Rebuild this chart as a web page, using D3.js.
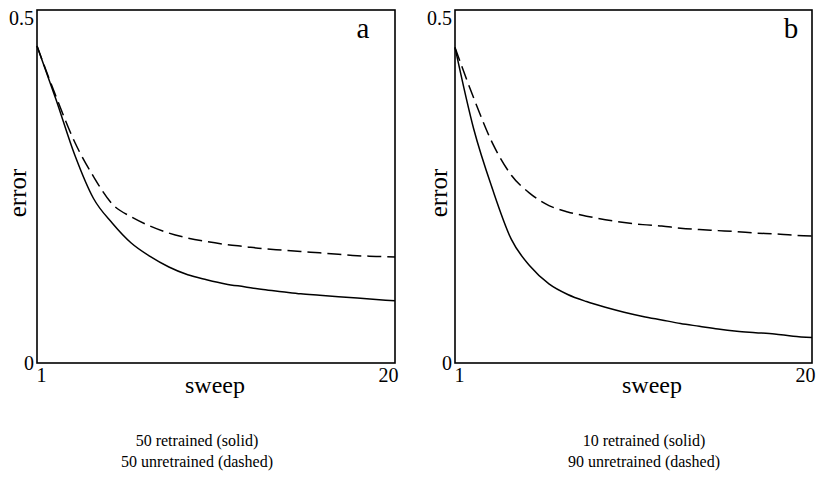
<!DOCTYPE html>
<html>
<head>
<meta charset="utf-8">
<script src="https://cdn.jsdelivr.net/npm/d3@7"></script>
<style>
  html, body { margin: 0; padding: 0; background: #fff; }
  svg { display: block; }
  text { font-family: "Liberation Serif", "Times New Roman", serif; fill: #000; }
</style>
</head>
<body>
<svg id="chart" width="821" height="485"></svg>
<script>
// ---- data ----
const sweeps = [1,2,3,4,5,6,7,8,9,10,11,12,13,14,15,16,17,18,19,20];
const aSolid  = [0.449,0.374,0.295,0.233,0.198,0.170,0.151,0.136,0.125,0.118,0.112,0.108,0.104,0.101,0.098,0.096,0.094,0.092,0.090,0.088];
const aDashed = [0.449,0.378,0.313,0.264,0.225,0.207,0.194,0.184,0.177,0.172,0.168,0.165,0.162,0.160,0.158,0.156,0.154,0.152,0.151,0.150];
const bSolid  = [0.447,0.331,0.246,0.175,0.137,0.112,0.097,0.087,0.079,0.072,0.066,0.061,0.056,0.052,0.048,0.045,0.043,0.041,0.038,0.036];
const bDashed = [0.447,0.375,0.311,0.266,0.240,0.223,0.214,0.208,0.203,0.199,0.196,0.194,0.191,0.189,0.1875,0.186,0.184,0.183,0.181,0.180];
const yTicks = [0, 0.5];
const xTicks = [1, 20];
const panelLetters = ["a", "b"];
const captionsA = ["50 retrained (solid)", "50 unretrained (dashed)"];
const captionsB = ["10 retrained (solid)", "90 unretrained (dashed)"];
const xLabel = "sweep";
const yLabel = "error";

const svg = d3.select("#chart");

const panels = [
  { left: 37, right: 395, solid: aSolid, dashed: aDashed, letter: panelLetters[0], letterX: 363, caps: captionsA, capX: 197, sweepX: 215, errorX: 26 },
  { left: 455, right: 812, solid: bSolid, dashed: bDashed, letter: panelLetters[1], letterX: 791, caps: captionsB, capX: 644, sweepX: 652, errorX: 447 }
];
const plotTop = 10, plotBottom = 363;
const serif = '"Liberation Serif", "Times New Roman", serif';

panels.forEach(p => {
  const x = d3.scaleLinear().domain([1, 20]).range([p.left, p.right]);
  const y = d3.scaleLinear().domain([0, 0.5]).range([plotBottom, plotTop]);
  const g = svg.append("g");

  // frame
  g.append("rect")
    .attr("x", p.left).attr("y", plotTop)
    .attr("width", p.right - p.left).attr("height", plotBottom - plotTop)
    .attr("fill", "none").attr("stroke", "#000").attr("stroke-width", 1.6);

  // y axis labels
  const yAxis = d3.axisLeft(y).tickValues(yTicks).tickSize(0).tickPadding(3)
    .tickFormat(d => d === 0 ? "0" : "0.5");
  const ya = g.append("g").attr("transform", `translate(${p.left},0)`).call(yAxis);
  ya.attr("font-family", serif).attr("font-size", 20);
  ya.select(".domain").remove();
  ya.selectAll("text")
    .attr("dy", d => d === 0 ? "0.3em" : "0.7em");

  // x axis labels
  const xAxis = d3.axisBottom(x).tickValues(xTicks).tickSize(0).tickPadding(5)
    .tickFormat(d3.format("d"));
  const xa = g.append("g").attr("transform", `translate(0,${plotBottom})`).call(xAxis);
  xa.attr("font-family", serif).attr("font-size", 20);
  xa.select(".domain").remove();
  xa.selectAll("text")
    .attr("text-anchor", d => d === 1 ? "start" : "end")
    .attr("dx", d => d === 1 ? -1 : 3);

  // axis titles
  g.append("text")
    .attr("x", p.sweepX).attr("y", 393)
    .attr("text-anchor", "middle").attr("font-size", 24)
    .text(xLabel);
  g.append("text")
    .attr("transform", `translate(${p.errorX},193) rotate(-90)`)
    .attr("text-anchor", "middle").attr("font-size", 25)
    .text(yLabel);

  // panel letter
  g.append("text")
    .attr("x", p.letterX).attr("y", 38)
    .attr("text-anchor", "middle").attr("font-size", 29)
    .text(p.letter);

  // lines
  const line = d3.line().x((d, i) => x(sweeps[i])).y(d => y(d)).curve(d3.curveMonotoneX);
  g.append("path").datum(p.solid)
    .attr("d", line).attr("fill", "none").attr("stroke", "#000")
    .attr("stroke-width", 1.5).attr("stroke-linejoin", "round");
  g.append("path").datum(p.dashed)
    .attr("d", line).attr("fill", "none").attr("stroke", "#000")
    .attr("stroke-width", 1.5).attr("stroke-dasharray", "14,6");

  // captions
  p.caps.forEach((c, i) => {
    g.append("text")
      .attr("x", p.capX).attr("y", 446 + i * 21)
      .attr("text-anchor", "middle").attr("font-size", 16)
      .text(c);
  });
});
</script>
</body>
</html>
